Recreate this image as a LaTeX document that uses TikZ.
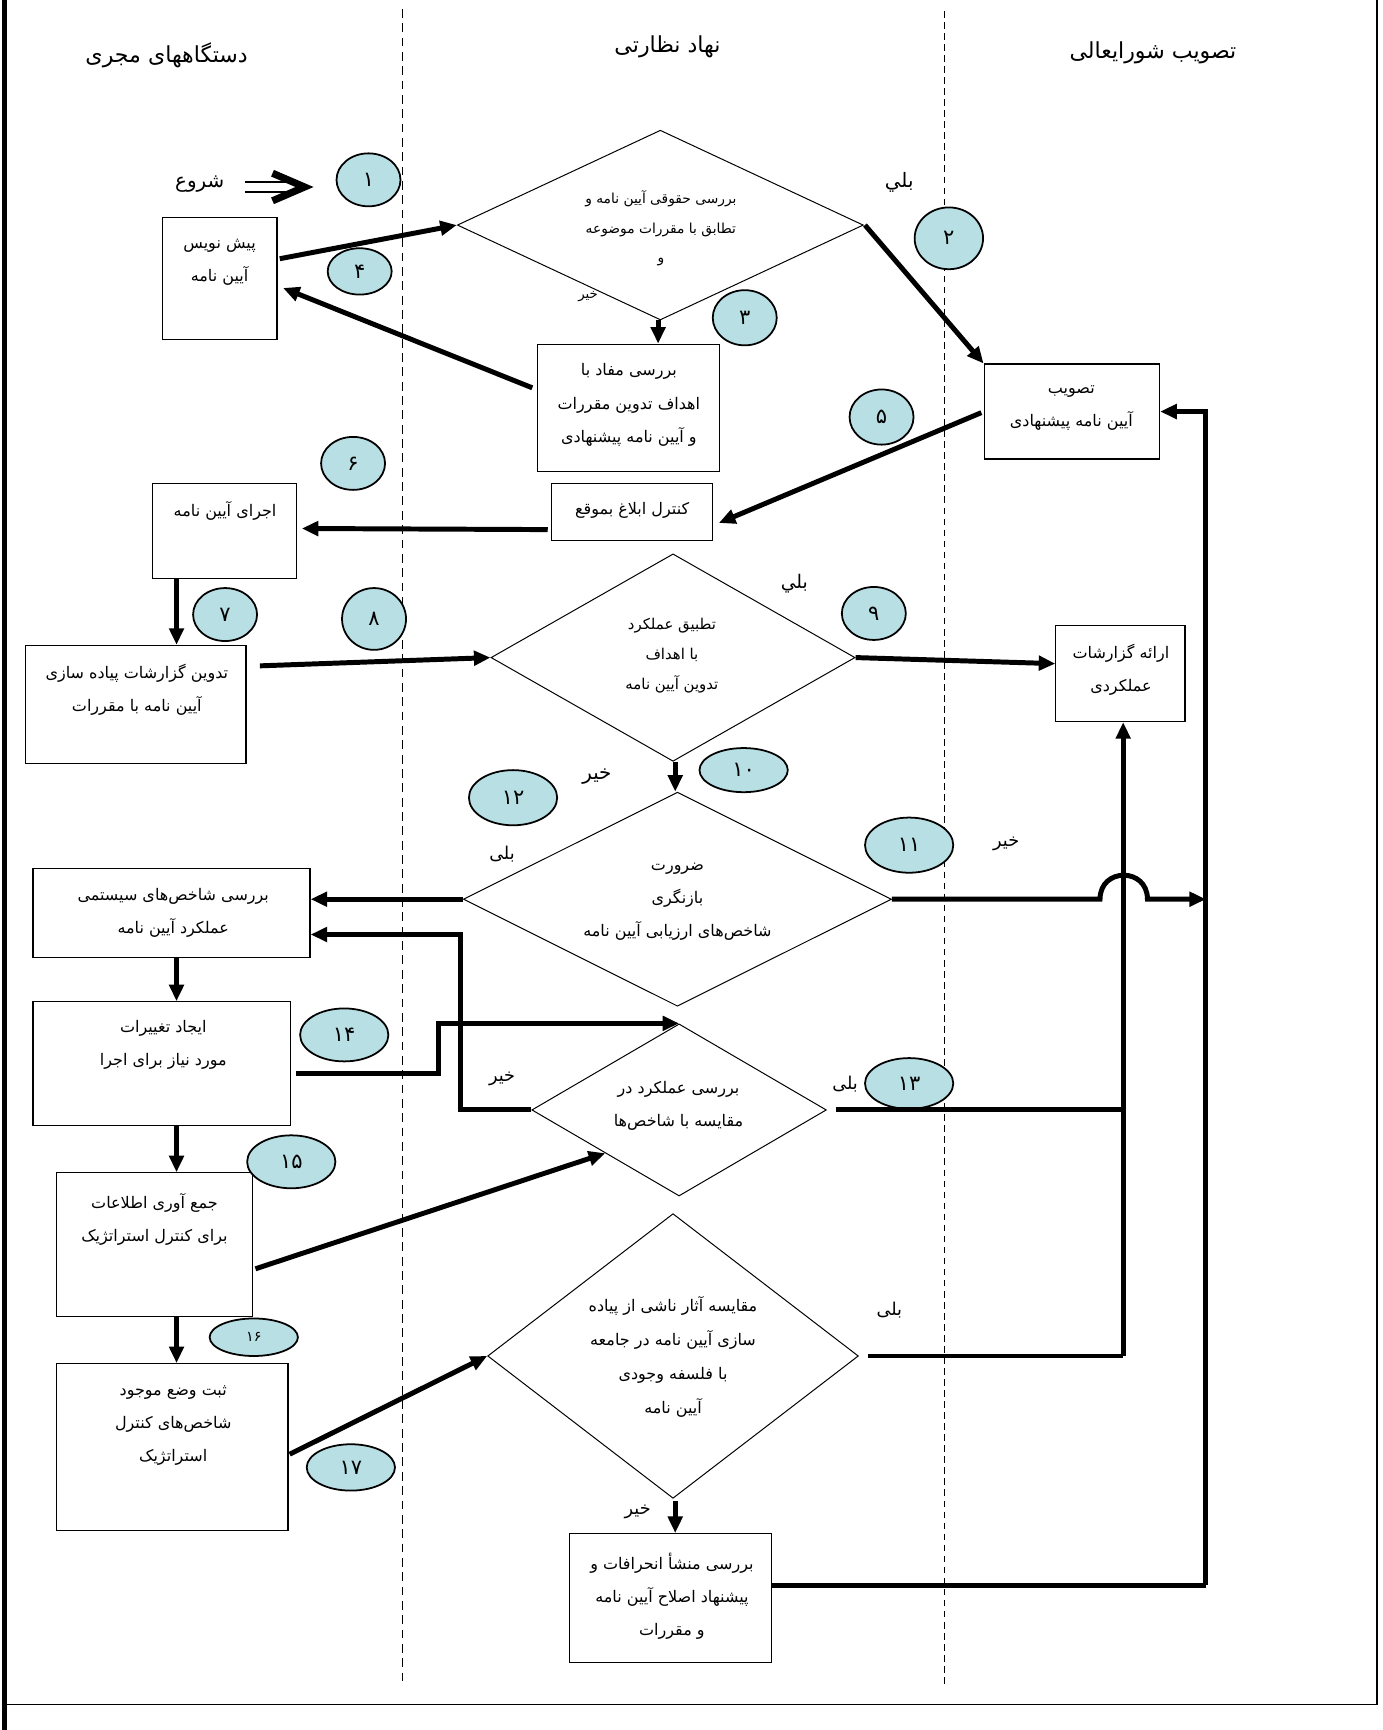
\documentclass[tikz,border=0pt]{standalone}
\usepackage{fontspec}
\usetikzlibrary{shapes.geometric,arrows.meta,calc}
\TeXXeTstate=1
\newfontfamily\fa[Script=Arabic]{DejaVu Sans}
\newcommand{\rl}[1]{\beginR #1\endR}
\definecolor{cblue}{RGB}{184,223,228}
\begin{document}
\begin{tikzpicture}[x=1pt,y=-1pt,
  box/.style={draw,line width=1.1pt,inner sep=0pt,rectangle},
  dia/.style={draw,line width=0.9pt,inner sep=0pt,diamond},
  num/.style={draw,line width=1.6pt,fill=cblue,ellipse,inner sep=0pt,font=\fa\fontsize{19}{22}\selectfont},
  txt/.style={align=center,inner sep=0pt,font=\fa\fontsize{14.5}{30}\selectfont},
  dtxt/.style={align=center,inner sep=0pt,font=\fa\fontsize{12.5}{27}\selectfont},
  lbl/.style={inner sep=0pt,font=\fa\fontsize{16}{18}\selectfont},
  hdr/.style={inner sep=0pt,font=\fa\fontsize{20}{22}\selectfont},
  conn/.style={line width=4.5pt,-{Triangle[length=15pt,width=13pt]}},
  plain/.style={line width=4.5pt}]
\useasboundingbox (0,0) rectangle (1253,1568);
% frame
\draw[line width=5pt] (4,0) -- (4,1568);
\draw[line width=1.2pt] (1248,0) -- (1248,1545);
\draw[line width=1.2pt] (4,1545) -- (1248,1545);
% lanes
\draw[line width=1.3pt,dash pattern=on 8pt off 5pt] (365,8) -- (365,1525);
\draw[line width=0.9pt,dash pattern=on 6pt off 4pt] (856,10) -- (856,1528);
% headers
\node[hdr] (h1) at (151,50) {\rl{دستگاههای مجری}};
\node[hdr] (h2) at (605,42) {\rl{نهاد نظارتی}};
\node[hdr] (h3) at (1045,48) {\rl{تصویب شورایعالی}};
% boxes
\node[box,minimum width=104,minimum height=111] (b1) at (199,252.5) {};
\node[box,minimum width=165,minimum height=115] (b2) at (569.5,369.5) {};
\node[box,minimum width=159,minimum height=86] (b3) at (971.5,373) {};
\node[box,minimum width=146,minimum height=52] (b4) at (573,464) {};
\node[box,minimum width=131,minimum height=86] (b5) at (203.5,481) {};
\node[box,minimum width=200,minimum height=107] (b6) at (123,638.5) {};
\node[box,minimum width=117,minimum height=87] (b7) at (1015.5,610.5) {};
\node[box,minimum width=251,minimum height=81] (b8) at (155.5,827.5) {};
\node[box,minimum width=233,minimum height=112] (b9) at (146.5,964) {};
\node[box,minimum width=178,minimum height=130] (b10) at (140,1128) {};
\node[box,minimum width=210,minimum height=151] (b11) at (156,1311.5) {};
\node[box,minimum width=183,minimum height=117] (b12) at (607.5,1448.5) {};
% diamonds
\node[dia,minimum width=368,minimum height=172] (d1) at (598.5,204) {};
\node[dia,minimum width=330,minimum height=188] (d2) at (610,596) {};
\node[dia,minimum width=388,minimum height=194] (d3) at (614,815) {};
\node[dia,minimum width=267,minimum height=156] (d4) at (615.5,1006) {};
\node[dia,minimum width=336,minimum height=258] (d5) at (610,1229) {};
% box texts
\node[txt] (t1) at (199,238) {\rl{پیش نویس}\\\rl{آیین نامه}};
\node[txt] (t2) at (570,367) {\rl{بررسی مفاد با}\\\rl{اهداف تدوین مقررات}\\\rl{و آیین نامه پیشنهادی}};
\node[txt] (t3) at (971,370) {\rl{تصویب}\\\rl{آیین نامه پیشنهادی}};
\node[txt] (t4) at (573,463) {\rl{کنترل ابلاغ بموقع}};
\node[txt] (t5) at (204,463) {\rl{اجرای آیین نامه}};
\node[txt] (t6) at (124,625) {\rl{تدوین گزارشات پیاده سازی}\\\rl{آیین نامه با مقررات}};
\node[txt] (t7) at (1016,607) {\rl{ارائه گزارشات}\\\rl{عملکردی}};
\node[txt] (t8) at (157,827) {\rl{بررسی شاخص‌های  سیستمی}\\\rl{عملکرد آیین نامه}};
\node[txt] (t9) at (148,947) {\rl{ایجاد تغییرات}\\\rl{مورد نیاز برای اجرا}};
\node[txt] (t10) at (140,1105) {\rl{جمع آوری اطلاعات}\\\rl{برای کنترل استراتژیک}};
\node[txt] (t11) at (157,1292) {\rl{ثبت وضع موجود}\\\rl{شاخص‌های کنترل}\\\rl{استراتژیک}};
\node[txt] (t12) at (609,1447) {\rl{بررسی منشأ انحرافات و}\\\rl{پیشنهاد اصلاح آیین نامه}\\\rl{و مقررات}};
% diamond texts
\node[dtxt] (s1) at (599,207) {\rl{بررسی حقوقی آیین نامه و}\\\rl{تطابق با مقررات موضوعه}\\\rl{و}};
\node[dtxt,font=\fa\fontsize{13.5}{27}\selectfont] (s2) at (609,594) {\rl{تطبیق عملکرد}\\\rl{با اهداف}\\\rl{تدوین آیین نامه}};
\node[txt] (s3) at (614,817) {\rl{ضرورت}\\\rl{بازنگری}\\\rl{شاخص‌های ارزیابی آیین نامه}};
\node[txt] (s4) at (615,1002) {\rl{بررسی عملکرد در}\\\rl{مقایسه با شاخص‌ها}};
\node[txt,font=\fa\fontsize{14.5}{31}\selectfont] (s5) at (610,1230) {\rl{مقایسه آثار ناشی از پیاده}\\\rl{سازی آیین نامه در جامعه}\\\rl{با فلسفه وجودی}\\\rl{آیین نامه}};
% labels
\node[lbl,font=\fa\fontsize{18}{20}\selectfont] (start) at (181,167) {\rl{شروع}};
\node[lbl,font=\fa\fontsize{18}{20}\selectfont] (l1) at (815,165) {\rl{بلي}};
\node[lbl,font=\fa\fontsize{12}{14}\selectfont] (l2) at (533,269) {\rl{خیر}};
\node[lbl,font=\fa\fontsize{17}{20}\selectfont] (l3) at (720,529) {\rl{بلي}};
\node[lbl,font=\fa\fontsize{18}{20}\selectfont] (l4) at (541,704) {\rl{خیر}};
\node[lbl] (l5) at (455,774) {\rl{بلی}};
\node[lbl] (l6) at (912,765) {\rl{خیر}};
\node[lbl] (l7) at (455,978) {\rl{خیر}};
\node[lbl] (l8) at (766,983) {\rl{بلی}};
\node[lbl] (l9) at (806,1187) {\rl{بلی}};
\node[lbl] (l10) at (578,1370) {\rl{خیر}};
% number markers
\node[num,minimum width=58,minimum height=48] (n1) at (334,163) {۱};
\node[num,minimum width=62,minimum height=56] (n2) at (860,216) {۲};
\node[num,minimum width=58,minimum height=50] (n3) at (675,288) {۳};
\node[num,minimum width=58,minimum height=42] (n4) at (326,246) {۴};
\node[num,minimum width=58,minimum height=50] (n5) at (799,378) {۵};
\node[num,minimum width=58,minimum height=48] (n6) at (320,420) {۶};
\node[num,minimum width=58,minimum height=48] (n7) at (204,557) {۷};
\node[num,minimum width=58,minimum height=56] (n8) at (339,561) {۸};
\node[num,minimum width=58,minimum height=48] (n9) at (792,556) {۹};
\node[num,minimum width=80,minimum height=40] (n10) at (674,698) {۱۰};
\node[num,minimum width=80,minimum height=50] (n11) at (824,766) {۱۱};
\node[num,minimum width=80,minimum height=50] (n12) at (465,723) {۱۲};
\node[num,minimum width=80,minimum height=46] (n13) at (824,982) {۱۳};
\node[num,minimum width=80,minimum height=48] (n14) at (312,938) {۱۴};
\node[num,minimum width=80,minimum height=48] (n15) at (264,1053) {۱۵};
\node[num,minimum width=80,minimum height=34,font=\fa\fontsize{13}{15}\selectfont] (n16) at (230,1212) {۱۶};
\node[num,minimum width=80,minimum height=42] (n17) at (318,1330) {۱۷};
% start arrow
\coordinate (sa1) at (222,165);
\coordinate (sa2) at (262,165);
\coordinate (sb1) at (222,174);
\coordinate (sb2) at (262,174);
\coordinate (sc1) at (247,157);
\coordinate (sc2) at (276,169.5);
\coordinate (sc3) at (247,182);
\draw[line width=2pt] (sa1) -- (sa2) (sb1) -- (sb2);
\draw[line width=6.5pt,line join=miter] (sc1) -- (sc2) -- (sc3);
% helper coordinates
\coordinate (colx) at (160,0);
\coordinate (rv) at (1093,1437);
\coordinate (lv) at (1018,1229);
\coordinate (hopA) at (997,815);
\coordinate (hopB) at (1040,815);
\coordinate (j14) at (397,973);
% connectors
\draw[conn] ($(b1.east)+(2,-18)$) -- (d1.west);
\draw[conn] ($(b2.west)+(-4,-18)$) -- ($(b1.east)+(5,8.5)$);
\draw[conn] ($(d1.south)+(-2,0)$) -- ($(d1.south |- b2.north)+(-2,0)$);
\draw[conn] ($(d1.east)+(1,0)$) -- (b3.north west);
\draw[conn] ($(b3.west)+(-2,1)$) -- ($(b4.east)+(5,10)$);
\draw[conn] ($(b4.west)+(-3,16)$) -- ($(b5.east)+(4,-2)$);
\draw[conn] (colx |- b5.south) -- (colx |- b6.north);
\draw[conn] ($(b6.east)+(12,-35)$) -- (d2.west);
\draw[conn] (d2.east) -- ($(b7.west)+(0,-9)$);
\draw[conn] ($(d2.south)+(2,0)$) -- ($(d3.north)+(-2,0)$);
\draw[conn] (d3.west) -- (b8.east |- d3.west);
\draw[conn,line join=miter] (d3.east) -- (hopA) .. controls (997,786) and (1040,786) .. (hopB) -- (rv |- hopB);
\draw[plain,line join=miter] ($(b12.east)+(0,-11.5)$) -- (rv);
\draw[conn,line join=miter] (rv) -- (rv |- b3.east) -- (b3.east);
\draw[plain] ($(d4.east)+(8,0)$) -- (lv |- d4.east);
\draw[plain,line join=miter] ($(d5.east)+(8,0)$) -- (lv);
\draw[conn] (lv) -- (lv |- b7.south);
\draw[conn,line join=miter] (d4.west) -- ++(-64,0) |- ($(b8.east)+(0,19.5)$);
\draw[conn,line join=miter] ($(b9.east)+(5,9)$) -- (j14) |- (d4.north);
\draw[conn] (colx |- b8.south) -- (colx |- b9.north);
\draw[conn] (colx |- b9.south) -- (colx |- b10.north);
\draw[conn] ($(b10.east)+(2,22)$) -- (d4.south west);
\draw[conn] (colx |- b10.south) -- (colx |- b11.north);
\draw[conn] ($(b11.east)+(1,6.5)$) -- (d5.west);
\draw[conn] ($(d5.south)+(2,2)$) -- ($(d5.south |- b12.north)+(2,0)$);
\end{tikzpicture}
\end{document}
